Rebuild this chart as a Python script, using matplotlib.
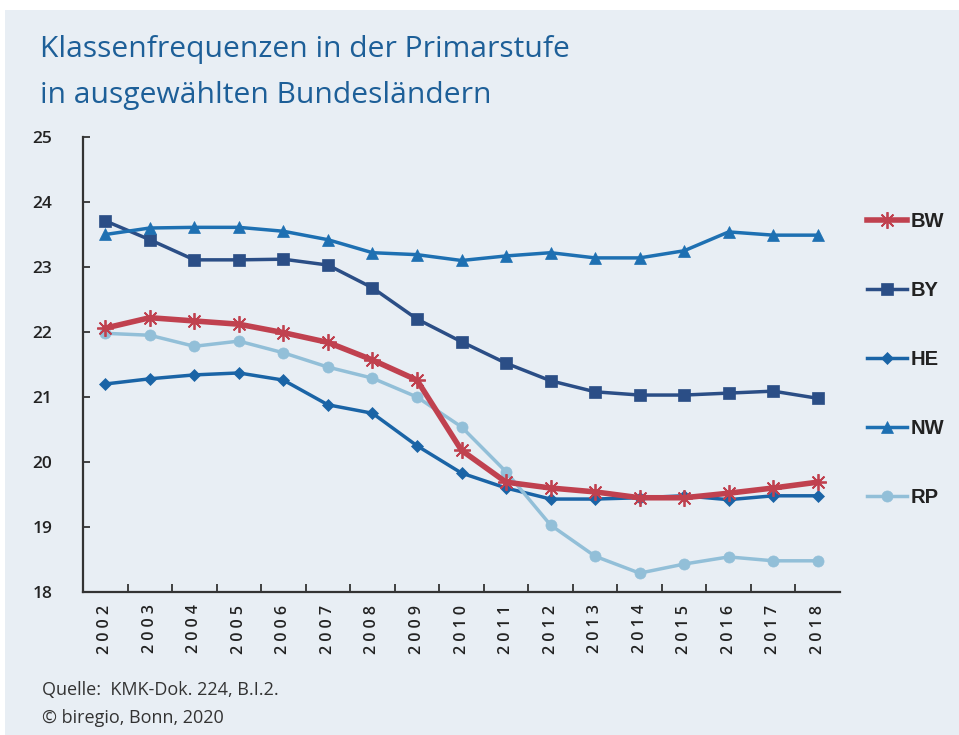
#!/usr/bin/env python3
# -*- coding: utf-8 -*-

import matplotlib
matplotlib.use("Agg")
import matplotlib.pyplot as plt
from matplotlib.patches import Rectangle

# ====== DATA ======
years = [str(y) for y in range(2002, 2019)]

bw = [22.06, 22.22, 22.17, 22.12, 21.99, 21.84, 21.57, 21.26, 20.18, 19.69,
      19.60, 19.54, 19.45, 19.45, 19.52, 19.60, 19.69]
by = [23.71, 23.42, 23.11, 23.11, 23.12, 23.03, 22.68, 22.20, 21.85, 21.52,
      21.25, 21.08, 21.03, 21.03, 21.06, 21.09, 20.98]
he = [21.20, 21.28, 21.34, 21.37, 21.26, 20.88, 20.75, 20.25, 19.83, 19.60,
      19.43, 19.43, 19.45, 19.48, 19.42, 19.48, 19.48]
nw = [23.50, 23.60, 23.61, 23.61, 23.55, 23.42, 23.22, 23.19, 23.10, 23.17,
      23.22, 23.14, 23.14, 23.25, 23.54, 23.49, 23.49]
rp = [21.98, 21.95, 21.78, 21.86, 21.68, 21.46, 21.29, 21.00, 20.54, 19.85,
      19.03, 18.55, 18.29, 18.43, 18.54, 18.48, 18.48]

title_lines = ["Klassenfrequenzen in der Primarstufe", "in ausgewählten Bundesländern"]
source_lines = ["Quelle:  KMK-Dok. 224, B.I.2.", "© biregio, Bonn, 2020"]

# ====== PLOT ======
BG = "#e8eef4"
TITLE_COLOR = "#1d5f98"

fig = plt.figure(figsize=(9.59, 7.35), dpi=100)
fig.patch.set_facecolor("white")
fig.patches.append(Rectangle((5 / 959, 0), 1, 1 - 10 / 735, transform=fig.transFigure,
                             facecolor=BG, edgecolor="none", zorder=-10))

ax = fig.add_axes([83 / 959, 1 - 592 / 735, (840 - 83) / 959, (592 - 137) / 735])
ax.set_facecolor(BG)

series = [
    ("BW", bw, "#c0414f", (8, 2, 0), 12, 4.0),
    ("BY", by, "#2b4e86", "s", 8, 2.5),
    ("HE", he, "#1a64a6", "D", 6, 2.5),
    ("NW", nw, "#1e70b2", "^", 8, 2.5),
    ("RP", rp, "#92bfd8", "o", 8, 2.5),
]

x = list(range(len(years)))
for label, vals, color, marker, ms, lw in series:
    ax.plot(x, vals, color=color, marker=marker, markersize=ms, linewidth=lw,
            markeredgewidth=1.3 if label == "BW" else 0.5,
            markeredgecolor=color, label=label,
            zorder=3 if label == "BW" else 2)

ax.set_xlim(-0.5, len(years) - 0.5)
ax.set_ylim(18, 25)

# osa x: popisky pod kategoriemi, ticky na hranicích
ax.set_xticks(x)
ax.set_xticklabels([" ".join(y) for y in years], rotation=90, fontsize=11.5,
                   fontweight="semibold", color="#222222", family="Open Sans")
ax.tick_params(axis="x", length=0, pad=9)
ax.set_xticks([i + 0.5 for i in x[:-1]], minor=True)
ax.tick_params(axis="x", which="minor", direction="in", length=6, width=1.3,
               color="#333333")

ax.set_yticks(range(18, 26))
ax.tick_params(axis="y", direction="in", length=5, width=1.3, color="#333333",
               pad=22, labelsize=12.5)
for t in ax.get_yticklabels():
    t.set_fontweight("semibold")
    t.set_color("#222222")
    t.set_family("Open Sans")

for s in ["top", "right"]:
    ax.spines[s].set_visible(False)
for s in ["left", "bottom"]:
    ax.spines[s].set_color("#333333")
    ax.spines[s].set_linewidth(1.6)

leg = ax.legend(loc="upper left", bbox_to_anchor=(1.025, 0.852), frameon=False,
                labelspacing=2.48, handlelength=2.0, handletextpad=0.15,
                borderaxespad=0.0,
                prop={"family": "Liberation Sans", "size": 14.5, "weight": "bold"})
for t in leg.get_texts():
    t.set_color("#222222")

fig.text(40 / 959, 1 - 50 / 735, title_lines[0], fontsize=21.6, color=TITLE_COLOR,
         family="Open Sans", va="center", ha="left")
fig.text(40 / 959, 1 - 96 / 735, title_lines[1], fontsize=21.6, color=TITLE_COLOR,
         family="Open Sans", va="center", ha="left")

fig.text(42 / 959, 1 - 690 / 735, source_lines[0], fontsize=13, color="#333333",
         family="Open Sans", va="center")
fig.text(42 / 959, 1 - 718 / 735, source_lines[1], fontsize=13, color="#333333",
         family="Open Sans", va="center")

fig.savefig("out.png", dpi=100, facecolor=fig.get_facecolor())
